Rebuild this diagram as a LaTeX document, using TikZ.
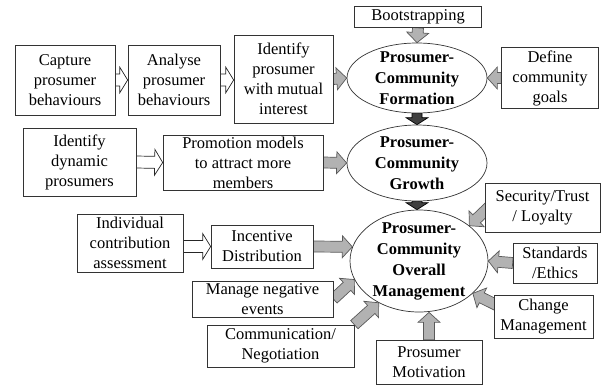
\documentclass[tikz,border=0pt]{standalone}
\usepackage{fontspec}
\setmainfont{Liberation Serif}
\usetikzlibrary{positioning,calc,shapes.geometric,backgrounds}

% block arrow drawn as a polygon from start to target
\tikzset{
    blkbw/.store in=\blkbw, blkhw/.store in=\blkhw, blkhl/.store in=\blkhl,
    blkbw=5pt, blkhw=11pt, blkhl=9pt,
    blockarrow/.style={line width=0.7pt, line join=miter, to path={
        ($(\tikztostart)!\blkbw!90:(\tikztotarget)$)
        -- ($($(\tikztotarget)!\blkhl!(\tikztostart)$)!\blkbw!-90:(\tikztostart)$)
        -- ($($(\tikztotarget)!\blkhl!(\tikztostart)$)!\blkhw!-90:(\tikztostart)$)
        -- (\tikztotarget)
        -- ($($(\tikztotarget)!\blkhl!(\tikztostart)$)!\blkhw!90:(\tikztostart)$)
        -- ($($(\tikztotarget)!\blkhl!(\tikztostart)$)!\blkbw!90:(\tikztostart)$)
        -- ($(\tikztostart)!\blkbw!-90:(\tikztotarget)$)
        -- cycle}}
}

\begin{document}
\begin{tikzpicture}[x=1pt, y=-1pt,
    box/.style={draw=black!80, fill=white, line width=0.7pt, rectangle, align=center,
        inner sep=0.5pt, font=\fontsize{16.5}{20}\selectfont},
    hub/.style={draw=black!80, fill=white, line width=0.7pt, ellipse, align=center,
        inner xsep=0pt, inner ysep=-6pt, minimum width=140pt, minimum height=70pt,
        font=\fontsize{16.5}{21}\selectfont\bfseries},
    hollow/.style={blockarrow, draw=black!85, fill=white, blkbw=6pt, blkhw=13pt, blkhl=8pt},
    grey/.style={blockarrow, draw=black!65, fill=black!30, blkbw=5.5pt, blkhw=11pt, blkhl=10pt},
    dark/.style={blockarrow, draw=black, fill=black!75, blkbw=5pt, blkhw=11pt, blkhl=7pt}
]
    \useasboundingbox (0,0) rectangle (602,386);

    % formation
    \node[box, minimum width=100pt, minimum height=70pt] (capture) at (65,80) {Capture\\prosumer\\behaviours};
    \node[box, minimum width=92pt, minimum height=70pt] (analyse) at (174,80) {Analyse\\prosumer\\behaviours};
    \node[box, minimum width=99pt, minimum height=88pt] (mutual) at (283.5,79) {Identify\\prosumer\\with mutual\\interest};
    \node[box, minimum width=127pt, minimum height=21pt] (boot) at (418,17) {Bootstrapping};
    \node[hub] (formation) at (417,78) {Prosumer-\\Community\\Formation};
    \node[box, minimum width=97pt, minimum height=61pt] (goals) at (550,78) {Define\\community\\goals};

    % growth
    \node[box, minimum width=113pt, minimum height=68pt] (dynamic) at (79.5,162) {Identify\\dynamic\\prosumers};
    \node[box, minimum width=160pt, minimum height=55pt] (promo) at (243,162.5) {Promotion models\\to attract more\\members};
    \node[hub, minimum height=76pt] (growth) at (417,163) {Prosumer-\\Community\\Growth};

    % overall management
    \node[box, minimum width=106pt, minimum height=58pt] (indiv) at (130,243) {Individual\\contribution\\assessment};
    \node[box, minimum width=102pt, minimum height=43pt] (incentive) at (262,246.5) {Incentive\\Distribution};
    \node[hub, minimum width=138pt, minimum height=102pt] (overall) at (419,261) {Prosumer-\\Community\\Overall\\Management};
    \node[box, minimum width=115pt, minimum height=49pt] (security) at (542.5,207.5) {Security/Trust\\/ Loyalty};
    \node[box, minimum width=84pt, minimum height=40pt] (standards) at (555,263) {Standards\\/Ethics};
    \node[box, minimum width=99pt, minimum height=43pt] (change) at (543.5,316.5) {Change\\Management};
    \node[box, minimum width=141pt, minimum height=36pt] (negative) at (262.5,299) {Manage negative\\events};
    \node[box, minimum width=147pt, minimum height=42pt] (comm) at (280.5,346) {Communication/\\Negotiation};
    \node[box, minimum width=106pt, minimum height=44pt] (motiv) at (429,362) {Prosumer\\Motivation};

    \coordinate (sectail) at ($(security.south west)+(5,-26)$);
    \coordinate (changetail) at ($(change.north west)+(6,12)$);

    % arrows behind the boxes
    \begin{scope}[on background layer]
        \path[hollow] (capture.east) to (analyse.west);
        \path[hollow] (analyse.east) to (mutual.west |- analyse.east);
        \path[grey] (mutual.east) to (formation.west);
        \path[grey] (boot.south) to (formation.north);
        \path[grey] (goals.west) to (formation.east);
        \path[dark] (formation.south) to (growth.north);
        \path[hollow] (dynamic.east) to (promo.west);
        \path[grey] (promo.east) to (growth.west);
        \path[dark] (growth.south) to (growth.south |- overall.north);
        \path[hollow] (indiv.east |- incentive.west) to (incentive.west);
        \path[grey] (incentive.east) to (overall.168);
        \path[grey] (negative.east) to (overall.196);
        \path[grey] (comm.north east) to (overall.226);
        \path[grey] (motiv.north) to (motiv.north |- overall.south);
        \path[grey] (sectail) to (overall.35);
        \path[grey] (standards.west) to (overall.east);
        \path[grey] (changetail) to (overall.329);
    \end{scope}
\end{tikzpicture}
\end{document}
